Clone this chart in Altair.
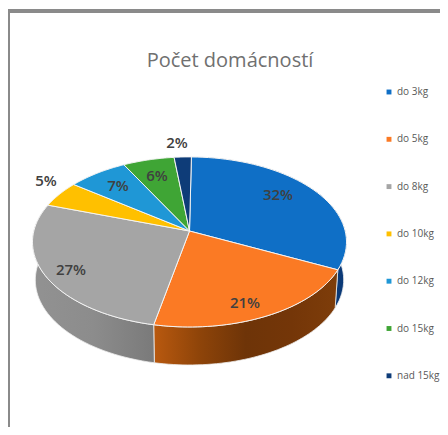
import altair as alt
import pandas as pd

categories = ["do 3kg", "do 5kg", "do 8kg", "do 10kg", "do 12kg", "do 15kg", "nad 15kg"]
shares = [32, 21, 27, 5, 7, 6, 2]
colors = ["#0F6FC6", "#FB7A24", "#A5A5A5", "#FFC000", "#1F97D6", "#3FA535", "#0E3C78"]

W, H = 432, 419
STEPS = 48
total = sum(shares)

top_rows, wall_rows = [], []
cum = 0
for c, s in zip(categories, shares):
    a, b = cum / total, (cum + s) / total
    top_rows.append({"cat": c, "i": -1, "f": a, "r": 0, "d": 0})
    for k in range(STEPS + 1):
        f = a + (b - a) * k / STEPS
        top_rows.append({"cat": c, "i": k, "f": f, "r": 1, "d": 0})
        wall_rows.append({"cat": c, "i": k, "f": f, "r": 1, "d": 0})
        wall_rows.append({"cat": c, "i": 2 * STEPS + 1 - k, "f": f, "r": 1, "d": 1})
    cum += s


def project(ch):
    return (
        ch.transform_calculate(
            X="datum.r*sin(2*PI*(datum.f+0.0022))", Y="datum.r*cos(2*PI*(datum.f+0.0022))"
        )
        .transform_calculate(den="1+0.129*datum.Y")
        .transform_calculate(
            px="189.5+155.7*datum.X/datum.den*(1-0.018*datum.d)",
            py="231-83.6*datum.Y/datum.den+38*datum.d",
        )
    )


xs = alt.Scale(domain=[8, 8 + W], range=[0, W])
ys = alt.Scale(domain=[8, 8 + H], range=[0, H])
X = alt.X("px:Q", scale=xs, axis=None)
Y = alt.Y("py:Q", scale=ys, axis=None)
color_scale = alt.Scale(domain=categories, range=colors)


def grad(stops):
    return alt.Gradient(
        gradient="linear",
        x1=0, y1=0, x2=1, y2=0,
        stops=[alt.GradientStop(color=col, offset=o) for o, col in stops],
    )


wall_fills = {
    "do 3kg": ["#0A2F62", "#0B3A78"],
    "do 5kg": ["#B9590F", "#8E4409", "#6E3408", "#743608", "#7E3D0A"],
    "do 8kg": ["#929292", "#8C8C8C", "#7A7A7A"],
}
walls = []
for cat, cols in wall_fills.items():
    stops = [(i / (len(cols) - 1), col) for i, col in enumerate(cols)]
    rows = [r for r in wall_rows if r["cat"] == cat]
    walls.append(
        project(alt.Chart(pd.DataFrame(rows)))
        .mark_line(interpolate="linear-closed", fill=grad(stops), stroke="#EDEDED", strokeWidth=0.8)
        .encode(x=X, y=Y, order="i:Q")
    )

top = (
    project(alt.Chart(pd.DataFrame(top_rows)))
    .mark_line(interpolate="linear-closed", stroke="#F4F4F4", strokeWidth=1)
    .encode(
        x=X,
        y=Y,
        order="i:Q",
        detail="cat:N",
        fill=alt.Fill(
            "cat:N",
            scale=color_scale,
            sort=categories,
            legend=alt.Legend(
                title=None,
                orient="none",
                legendX=376,
                legendY=79,
                symbolType="square",
                symbolSize=24,
                symbolStrokeWidth=0,
                labelFont="Open Sans",
                labelFontSize=10,
                labelColor="#595959",
                rowPadding=37.3,
                labelOffset=3,
                labelLimit=80,
            ),
        ),
    )
)

# label layout, in picture coordinates
label_text = ["32%", "21%", "27%", "5%", "7%", "6%", "2%"]
label_x = [278, 245, 71, 46, 118, 157, 177]
label_y = [195, 303, 270, 181, 186, 176, 143]
labels = (
    alt.Chart(pd.DataFrame({"t": label_text, "px": label_x, "py": label_y}))
    .mark_text(font="Open Sans", fontSize=15, fontWeight=600, color="#404040")
    .encode(x=X, y=Y, text="t:N")
)

title = alt.Chart(pd.DataFrame({"t": ["Počet domácností"], "px": [230], "py": [61]})).mark_text(
    font="Open Sans", fontSize=20, color="#707070"
).encode(x=X, y=Y, text="t:N")

frame_left = alt.Chart(pd.DataFrame({"a": [0]})).mark_rule(color="#8A8A8A", strokeWidth=2).encode(
    x=alt.value(1), y=alt.value(2), y2=alt.value(H)
)
frame_top = alt.Chart(pd.DataFrame({"a": [0]})).mark_rule(color="#8A8A8A", strokeWidth=4).encode(
    x=alt.value(0), x2=alt.value(W), y=alt.value(3)
)

chart = (
    alt.layer(frame_left, frame_top, *walls, top, labels, title)
    .properties(width=W, height=H, padding=0, autosize=alt.AutoSizeParams(type="none"))
    .configure_view(stroke=None)
)
chart.save("out.html", embed_options={"renderer": "svg", "actions": False})
